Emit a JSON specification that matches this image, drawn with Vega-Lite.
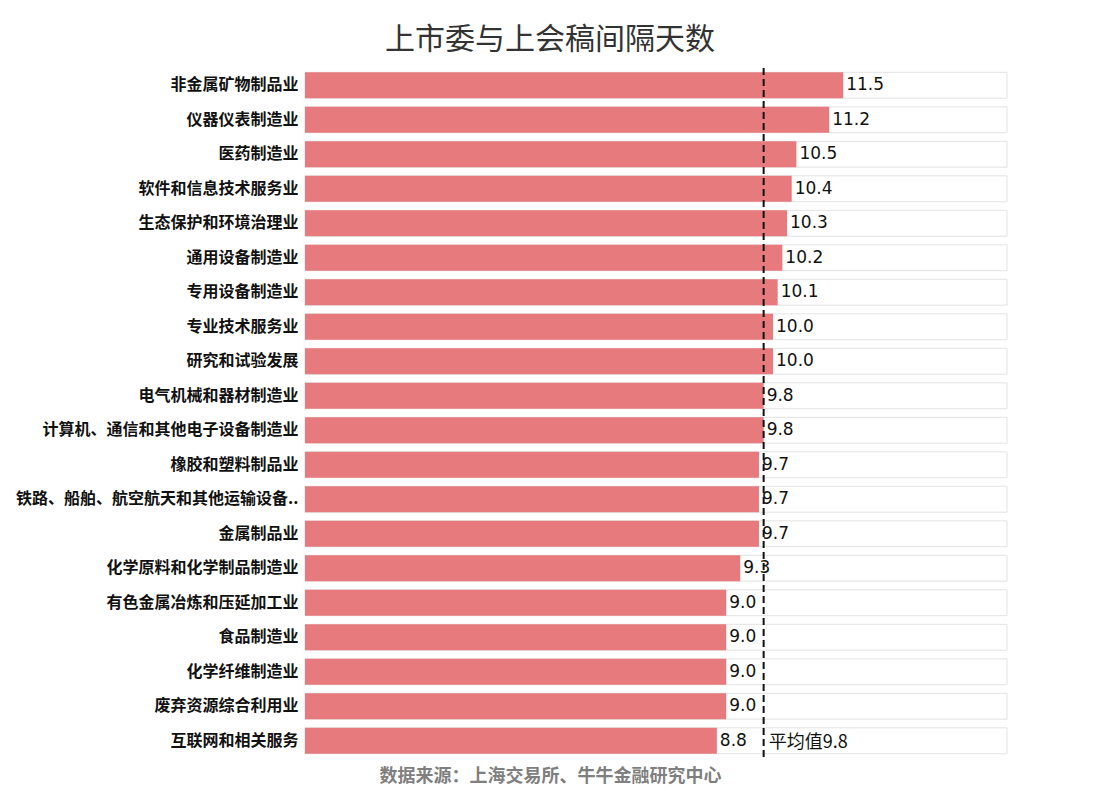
{
  "$schema": "https://vega.github.io/schema/vega-lite/v6.json",
  "autosize": {"type": "none"},
  "width": 702,
  "height": 690,
  "padding": {"left": 305, "top": 68, "right": 93, "bottom": 42},
  "background": "white",
  "title": {
    "text": "上市委与上会稿间隔天数",
    "font": "Noto Sans CJK SC",
    "fontSize": 30,
    "fontWeight": "normal",
    "color": "#333333",
    "anchor": "middle",
    "frame": "group",
    "dx": -106,
    "offset": 12
  },
  "config": {"view": {"stroke": null}},
  "data": {
    "values": [
      {"cat": "非金属矿物制品业", "days": 11.5},
      {"cat": "仪器仪表制造业", "days": 11.2},
      {"cat": "医药制造业", "days": 10.5},
      {"cat": "软件和信息技术服务业", "days": 10.4},
      {"cat": "生态保护和环境治理业", "days": 10.3},
      {"cat": "通用设备制造业", "days": 10.2},
      {"cat": "专用设备制造业", "days": 10.1},
      {"cat": "专业技术服务业", "days": 10.0},
      {"cat": "研究和试验发展", "days": 10.0},
      {"cat": "电气机械和器材制造业", "days": 9.8},
      {"cat": "计算机、通信和其他电子设备制造业", "days": 9.8},
      {"cat": "橡胶和塑料制品业", "days": 9.7},
      {"cat": "铁路、船舶、航空航天和其他运输设备..", "days": 9.7},
      {"cat": "金属制品业", "days": 9.7},
      {"cat": "化学原料和化学制品制造业", "days": 9.3},
      {"cat": "有色金属冶炼和压延加工业", "days": 9.0},
      {"cat": "食品制造业", "days": 9.0},
      {"cat": "化学纤维制造业", "days": 9.0},
      {"cat": "废弃资源综合利用业", "days": 9.0},
      {"cat": "互联网和相关服务", "days": 8.8}
    ]
  },
  "encoding": {
    "y": {
      "field": "cat",
      "type": "nominal",
      "sort": null,
      "scale": {"paddingInner": 0.25, "paddingOuter": 0.125},
      "axis": {
        "title": null,
        "ticks": false,
        "domain": false,
        "labelFont": "Noto Sans CJK SC",
        "labelFontSize": 16,
        "labelFontWeight": "bold",
        "labelColor": "#111111",
        "labelPadding": 7,
        "labelLimit": 400
      }
    }
  },
  "layer": [
    {
      "mark": {"type": "bar", "fill": "white", "stroke": "#e3e3e3", "strokeWidth": 1},
      "encoding": {
        "x": {
          "datum": 15,
          "type": "quantitative",
          "scale": {"domain": [0, 15], "nice": false},
          "axis": {
            "labels": false,
            "ticks": false,
            "domain": false,
            "grid": false,
            "title": "数据来源：上海交易所、牛牛金融研究中心",
            "titleFont": "Noto Sans CJK SC",
            "titleFontSize": 18,
            "titleFontWeight": "bold",
            "titleColor": "#7f7f7f",
            "titleX": 245,
            "titleY": 18,
            "titleAlign": "center",
            "titleBaseline": "middle"
          }
        }
      }
    },
    {
      "mark": {"type": "bar", "color": "#E67A7D"},
      "encoding": {"x": {"field": "days", "type": "quantitative"}}
    },
    {
      "mark": {"type": "text", "align": "left", "baseline": "middle", "dx": 3, "font": "DejaVu Sans", "fontSize": 17, "color": "#111111"},
      "encoding": {
        "x": {"field": "days", "type": "quantitative"},
        "text": {"field": "days", "type": "quantitative", "format": ".1f"}
      }
    },
    {
      "data": {"values": [{"mean": 9.8}]},
      "mark": {"type": "rule", "color": "#111111", "strokeWidth": 2, "strokeDash": [7, 4]},
      "encoding": {"x": {"field": "mean", "type": "quantitative"}, "y": null}
    },
    {
      "data": {"values": [{"mean": 9.8, "cat": "互联网和相关服务", "label": "平均值9.8"}]},
      "mark": {"type": "text", "align": "left", "baseline": "middle", "dx": 5, "dy": 2, "font": "Noto Sans CJK SC", "fontSize": 18, "color": "#111111"},
      "encoding": {
        "x": {"field": "mean", "type": "quantitative"},
        "y": {"field": "cat", "type": "nominal", "sort": null},
        "text": {"field": "label"}
      }
    }
  ]
}
